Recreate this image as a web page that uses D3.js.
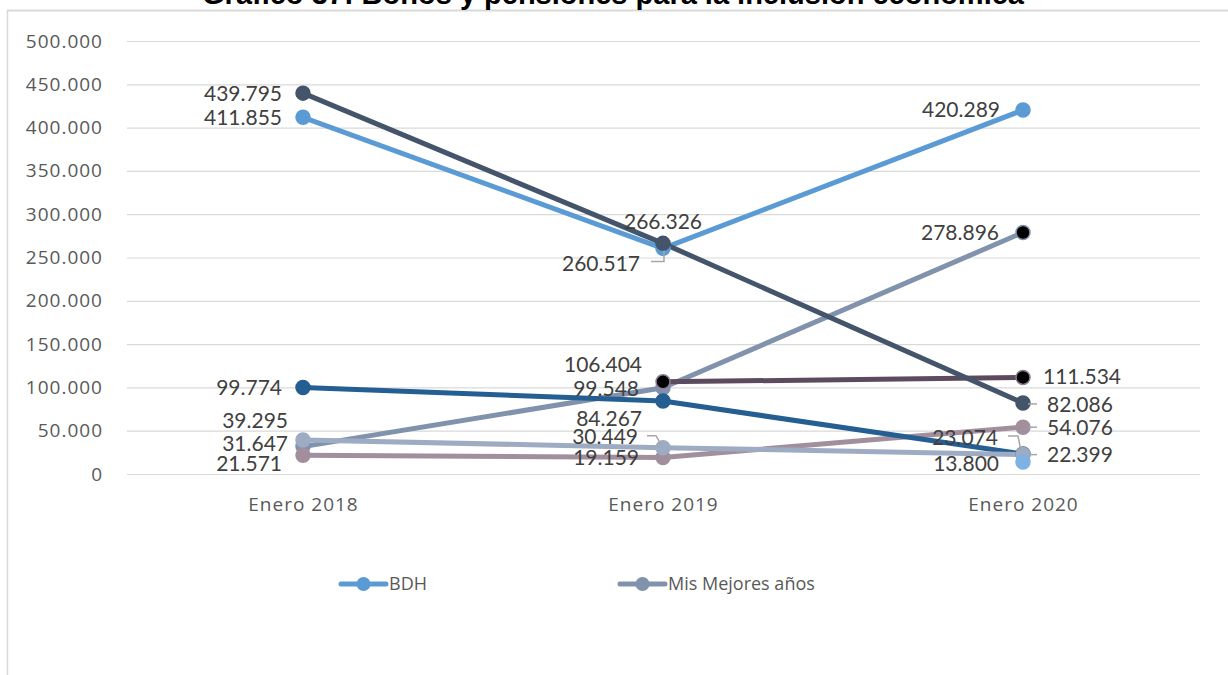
<!DOCTYPE html>
<html>
<head>
<meta charset="utf-8">
<script src="https://cdn.jsdelivr.net/npm/d3@7"></script>
<style>
  html, body { margin: 0; padding: 0; background: #fff; }
  svg { display: block; }
</style>
</head>
<body>
<svg id="chart" width="1228" height="675"></svg>
<script>
// ---- data ----
const categories = ['Enero 2018', 'Enero 2019', 'Enero 2020'];
const yTicks = [0, 50000, 100000, 150000, 200000, 250000, 300000, 350000, 400000, 450000, 500000];

const bdh = [411855, 260517, 420289];
const adultosMayores = [439795, 266326, 82086];
const discapacidad = [99774, 84267, 23074];
const misMejoresAnos = [31647, 99548, 278896];
const pensionToda = [39295, 30449, 22399];
const joaquinGallegos = [21571, 19159, 54076];
const bdhVariable = [null, 106404, 111534];
const otrosBonos = [null, null, 13800];

// draw order (bottom -> top), colours, and where each data label sits
// lbl: [dx, dy, anchor, leader points relative to the marker or null]
const series = [
  { name: 'Mis Mejores años', values: misMejoresAnos, color: '#8192AD',
    markerFill: ['#8192AD', '#8192AD', '#000'], legend: true,
    lbl: [[-15, -3, 'end'], [-24, 1, 'end'], [-24, 0, 'end']] },
  { name: 'BDH variable', values: bdhVariable, color: '#5C4B5E',
    markerFill: [null, '#000', '#000'], markerStroke: '#8E7D92',
    lbl: [null, [-21, -17, 'end'], [20, -1, 'start']] },
  { name: 'Joaquín Gallegos Lara', values: joaquinGallegos, color: '#A28F9E',
    lbl: [[-21, 8, 'end'], [-24, 0, 'end'], [24, 0, 'start', [[5, 0], [14, 0]]]] },
  { name: 'Pensión discapacidad', values: discapacidad, color: '#255E91',
    lbl: [[-21, 0, 'end'], [-21, 17, 'end'], [-25, -17, 'end', [[-15, -18], [-5, -18], [-2, -3]]]] },
  { name: 'Pensión Toda una Vida', values: pensionToda, color: '#9EACC3',
    lbl: [[-15, -20, 'end'], [-25, -11, 'end', [[-16, -12], [-7, -12], [-2, -3]]], [24, 0, 'start', [[5, 0], [14, 0]]]] },
  { name: 'BDH', values: bdh, color: '#5B9BD5', legend: true,
    lbl: [[-21, 0, 'end'], [-23, 15, 'end', [[-12, 13], [1, 13], [1, 2]]], [-23, -1, 'end']] },
  { name: 'Pensión adultos mayores', values: adultosMayores, color: '#44546A',
    lbl: [[-21, 0, 'end'], [0, -22, 'middle'], [24, 2, 'start', [[5, 1], [14, 1]]]] },
  { name: 'Otros', values: otrosBonos, color: '#7EB2E2',
    lbl: [null, null, [-24, 1, 'end']] }
];

const svg = d3.select('#chart');
const nf = d3.formatLocale({ decimal: ',', thousands: '.', grouping: [3], currency: ['$', ''] }).format(',');

const x = d3.scalePoint().domain(categories).range([123, 1203]).padding(0.5);
const y = d3.scaleLinear().domain([0, 500000]).range([474, 41]);

// outer frame (only top & left edges visible in the crop)
svg.append('line').attr('x1', 7).attr('x2', 1228).attr('y1', 10.5).attr('y2', 10.5)
  .attr('stroke', '#d9d9d9').attr('stroke-width', 2);
svg.append('line').attr('x1', 7.5).attr('x2', 7.5).attr('y1', 10).attr('y2', 675)
  .attr('stroke', '#d9d9d9').attr('stroke-width', 1.5);

// title (cut off at the top)
svg.append('text')
  .attr('x', 613).attr('y', 4)
  .attr('text-anchor', 'middle')
  .attr('font-family', '"Liberation Sans", Arial, sans-serif')
  .attr('font-weight', 'bold')
  .attr('font-size', 29)
  .attr('fill', '#000')
  .text('Gráfico 37: Bonos y pensiones para la inclusión económica');

// y axis + gridlines
const yAxis = svg.append('g')
  .attr('transform', 'translate(127,0)')
  .call(d3.axisLeft(y).tickValues(yTicks).tickFormat(nf).tickSizeInner(-1073).tickSizeOuter(0).tickPadding(24));
yAxis.select('.domain').remove();
yAxis.selectAll('.tick line').attr('stroke', '#d9d9d9').attr('stroke-width', 1.2);
yAxis.selectAll('.tick text')
  .attr('font-family', '"Open Sans", sans-serif')
  .attr('font-size', 19)
  .attr('letter-spacing', 1)
  .attr('fill', '#595959');

// x axis labels
const xAxis = svg.append('g')
  .attr('transform', 'translate(0,474)')
  .call(d3.axisBottom(x).tickSize(0).tickPadding(24));
xAxis.select('.domain').remove();
xAxis.selectAll('.tick text')
  .attr('font-family', '"Open Sans", sans-serif')
  .attr('font-size', 19)
  .attr('letter-spacing', 1)
  .attr('fill', '#595959');

const line = d3.line()
  .defined(d => d != null)
  .x((d, i) => x(categories[i]))
  .y(d => y(d));

// lines
svg.append('g').selectAll('path')
  .data(series)
  .join('path')
  .attr('d', s => line(s.values))
  .attr('fill', 'none')
  .attr('stroke', s => s.color)
  .attr('stroke-width', 5)
  .attr('stroke-linejoin', 'round')
  .attr('stroke-linecap', 'round');

// markers
const pts = series.flatMap(s => s.values.map((v, i) => ({ s, v, i })).filter(d => d.v != null));
svg.append('g').selectAll('circle')
  .data(pts)
  .join('circle')
  .attr('cx', d => x(categories[d.i]))
  .attr('cy', d => y(d.v))
  .attr('r', 7)
  .attr('fill', d => (d.s.markerFill && d.s.markerFill[d.i]) || d.s.color)
  .attr('stroke', d => d.s.markerStroke || d.s.color)
  .attr('stroke-width', 1.5);

// leader lines
const withLbl = pts.filter(d => d.s.lbl[d.i]);
svg.append('g').selectAll('polyline')
  .data(withLbl.filter(d => d.s.lbl[d.i][3]))
  .join('polyline')
  .attr('points', d => {
    const cx = x(categories[d.i]), cy = y(d.v);
    return d.s.lbl[d.i][3].map(p => [cx + p[0], cy + p[1]].join(',')).join(' ');
  })
  .attr('fill', 'none')
  .attr('stroke', '#a6a6a6')
  .attr('stroke-width', 1.5);

// data labels
svg.append('g').selectAll('text')
  .data(withLbl)
  .join('text')
  .attr('x', d => x(categories[d.i]) + d.s.lbl[d.i][0])
  .attr('y', d => y(d.v) + d.s.lbl[d.i][1])
  .attr('dy', '0.36em')
  .attr('text-anchor', d => d.s.lbl[d.i][2])
  .attr('font-family', 'Lato, sans-serif')
  .attr('font-size', 21)
  .attr('fill', '#404040')
  .text(d => nf(d.v));

// legend
const legendItems = series.filter(s => s.legend).reverse();
const legendX = [341, 620];
const lg = svg.append('g').selectAll('g')
  .data(legendItems)
  .join('g')
  .attr('transform', (d, i) => `translate(${legendX[i]},584)`);
lg.append('line').attr('x1', 0).attr('x2', 45)
  .attr('stroke', d => d.color).attr('stroke-width', 5).attr('stroke-linecap', 'round');
lg.append('circle').attr('cx', 22.5).attr('r', 7).attr('fill', d => d.color);
lg.append('text')
  .attr('x', 48).attr('dy', '0.36em')
  .attr('font-family', '"Open Sans", sans-serif')
  .attr('font-size', 18)
  .attr('fill', '#595959')
  .text(d => d.name);
</script>
</body>
</html>
